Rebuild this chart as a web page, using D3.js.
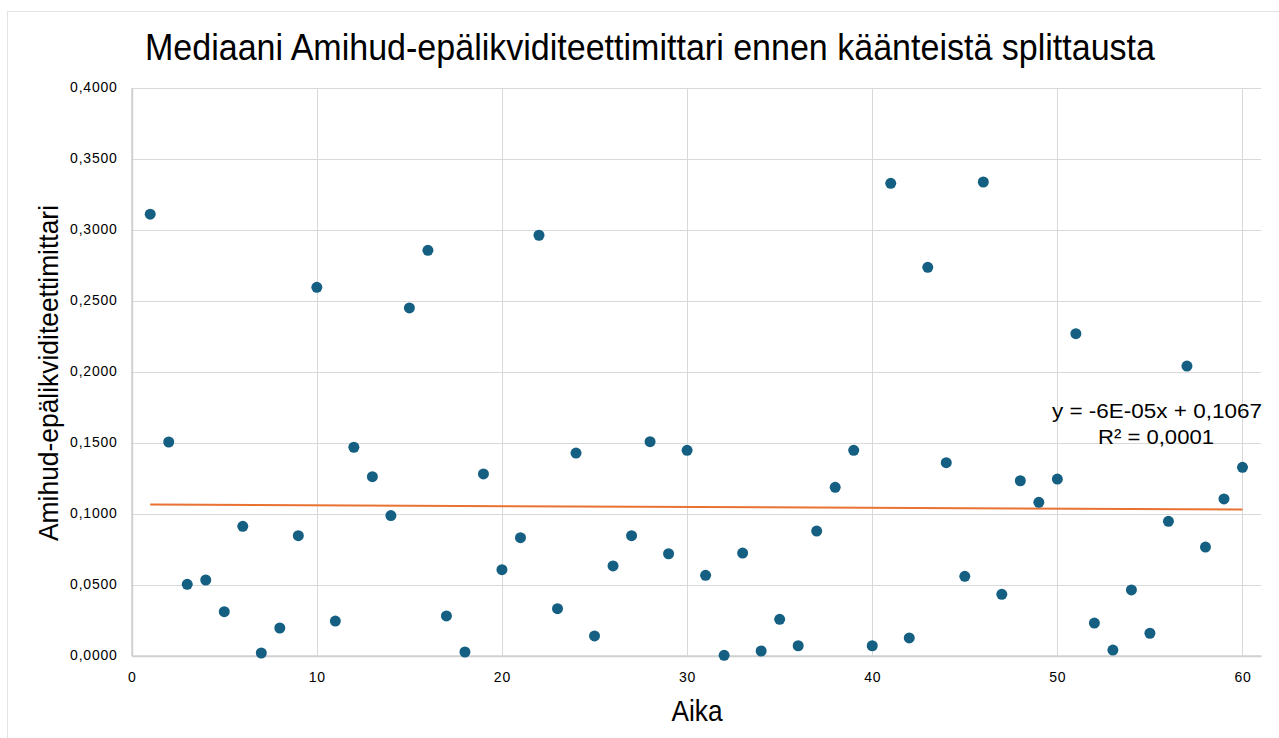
<!DOCTYPE html>
<html>
<head>
<meta charset="utf-8">
<script src="https://cdn.jsdelivr.net/npm/d3@7"></script>
<style>
  html, body { margin: 0; padding: 0; background: #fff; }
  svg { display: block; }
  text { font-family: "Liberation Sans", Arial, sans-serif; fill: #000; }
</style>
</head>
<body>
<svg id="chart" width="1279" height="738"></svg>
<script>
// ---- data ----
const titleText = "Mediaani Amihud-epälikviditeettimittari ennen käänteistä splittausta";
const xTitle = "Aika";
const yTitle = "Amihud-epälikviditeettimittari";
const eqLine1 = "y = -6E-05x + 0,1067";
const eqLine2 = "R² = 0,0001";

const periods = d3.range(1, 61);
const values = [
  0.3109, 0.1505, 0.0503, 0.0533, 0.0310, 0.0911, 0.0019, 0.0195, 0.0845, 0.2594,
  0.0244, 0.1468, 0.1261, 0.0987, 0.2449, 0.2855, 0.0280, 0.0026, 0.1280, 0.0606,
  0.0831, 0.2961, 0.0331, 0.1427, 0.0139, 0.0632, 0.0845, 0.1507, 0.0718, 0.1446,
  0.0566, 0.0003, 0.0723, 0.0033, 0.0256, 0.0070, 0.0878, 0.1186, 0.1446, 0.0070,
  0.3327, 0.0125, 0.2735, 0.1359, 0.0559, 0.3336, 0.0432, 0.1232, 0.1080, 0.1244,
  0.2268, 0.0230, 0.0040, 0.0463, 0.0158, 0.0946, 0.2040, 0.0765, 0.1104, 0.1327
];
const xTicks = [0, 10, 20, 30, 40, 50, 60];
const yTicks = [0, 0.05, 0.10, 0.15, 0.20, 0.25, 0.30, 0.35, 0.40];

const points = periods.map((p, i) => ({x: p, y: values[i]}));

// ---- layout ----
const svg = d3.select("#chart");
const plot = {left: 131.7, right: 1261, top: 87.7, bottom: 655.7};

const x = d3.scaleLinear().domain([0, 61]).range([plot.left, plot.right]);
const y = d3.scaleLinear().domain([0, 0.4]).range([plot.bottom, plot.top]);

// chart-area border (left/top visible)
svg.append("rect")
  .attr("x", 7.5).attr("y", 11.5)
  .attr("width", 1300).attr("height", 760)
  .attr("fill", "none").attr("stroke", "#e3e3e3").attr("stroke-width", 1);

// gridlines
const grid = svg.append("g");
grid.selectAll("line.h").data(yTicks.filter(t => t > 0)).join("line")
  .attr("x1", plot.left).attr("x2", plot.right)
  .attr("y1", d => Math.round(y(d)) + 0.5).attr("y2", d => Math.round(y(d)) + 0.5)
  .attr("stroke", "#d9d9d9").attr("stroke-width", 1);
grid.selectAll("line.v").data(xTicks.filter(t => t > 0)).join("line")
  .attr("y1", plot.top).attr("y2", plot.bottom)
  .attr("x1", d => Math.round(x(d)) + 0.5).attr("x2", d => Math.round(x(d)) + 0.5)
  .attr("stroke", "#d9d9d9").attr("stroke-width", 1);

// axes via d3
const fmtY = d => d3.format(".4f")(d).replace(".", ",");
const yAxis = d3.axisLeft(y).tickValues(yTicks).tickSize(0).tickPadding(14).tickFormat(fmtY);
const xAxis = d3.axisBottom(x).tickValues(xTicks).tickSize(0).tickPadding(16).tickFormat(d3.format("d"));

const gy = svg.append("g").attr("transform", `translate(${plot.left},0)`).call(yAxis);
gy.select(".domain").attr("stroke", "#d0d0d0").attr("stroke-width", 2);
gy.selectAll(".tick text")
  .attr("font-size", 14).attr("font-family", "Liberation Sans, Arial, sans-serif")
  .attr("fill", "#000").attr("dy", "0.3em")
  .style("letter-spacing", "0.8px");

const gx = svg.append("g").attr("transform", `translate(0,${plot.bottom})`).call(xAxis);
gx.select(".domain").attr("stroke", "#d0d0d0").attr("stroke-width", 2);
gx.selectAll(".tick text")
  .attr("font-size", 14).attr("font-family", "Liberation Sans, Arial, sans-serif")
  .attr("fill", "#000")
  .style("letter-spacing", "0.8px");

// trendline (least squares from the data)
const mx = d3.mean(points, d => d.x), my = d3.mean(points, d => d.y);
const slope = d3.sum(points, d => (d.x - mx) * (d.y - my)) / d3.sum(points, d => (d.x - mx) ** 2);
const intercept = my - slope * mx;
const xExt = d3.extent(points, d => d.x);
const trend = xExt.map(v => ({x: v, y: intercept + slope * v}));
svg.append("path")
  .datum(trend)
  .attr("d", d3.line().x(d => x(d.x)).y(d => y(d.y)))
  .attr("fill", "none").attr("stroke", "#E97132").attr("stroke-width", 2);

// points
svg.append("g").selectAll("circle").data(points).join("circle")
  .attr("cx", d => x(d.x)).attr("cy", d => y(d.y)).attr("r", 5.5)
  .attr("fill", "#156082");

// equation label
svg.append("text").attr("x", 1157).attr("y", 417.5)
  .attr("text-anchor", "middle").attr("font-size", 20.5)
  .attr("textLength", 210).attr("lengthAdjust", "spacingAndGlyphs")
  .text(eqLine1);
svg.append("text").attr("x", 1156).attr("y", 444)
  .attr("text-anchor", "middle").attr("font-size", 20.5)
  .attr("textLength", 116).attr("lengthAdjust", "spacingAndGlyphs")
  .text(eqLine2);

// title
svg.append("text").attr("x", 650).attr("y", 60)
  .attr("text-anchor", "middle").attr("font-size", 36)
  .attr("textLength", 1010).attr("lengthAdjust", "spacingAndGlyphs")
  .text(titleText);

// x axis title
svg.append("text").attr("x", 697).attr("y", 721)
  .attr("text-anchor", "middle").attr("font-size", 29)
  .attr("textLength", 51).attr("lengthAdjust", "spacingAndGlyphs")
  .text(xTitle);

// y axis title
svg.append("text")
  .attr("transform", `translate(58,${373}) rotate(-90)`)
  .attr("text-anchor", "middle").attr("font-size", 28)
  .attr("textLength", 336).attr("lengthAdjust", "spacingAndGlyphs")
  .text(yTitle);
</script>
</body>
</html>
